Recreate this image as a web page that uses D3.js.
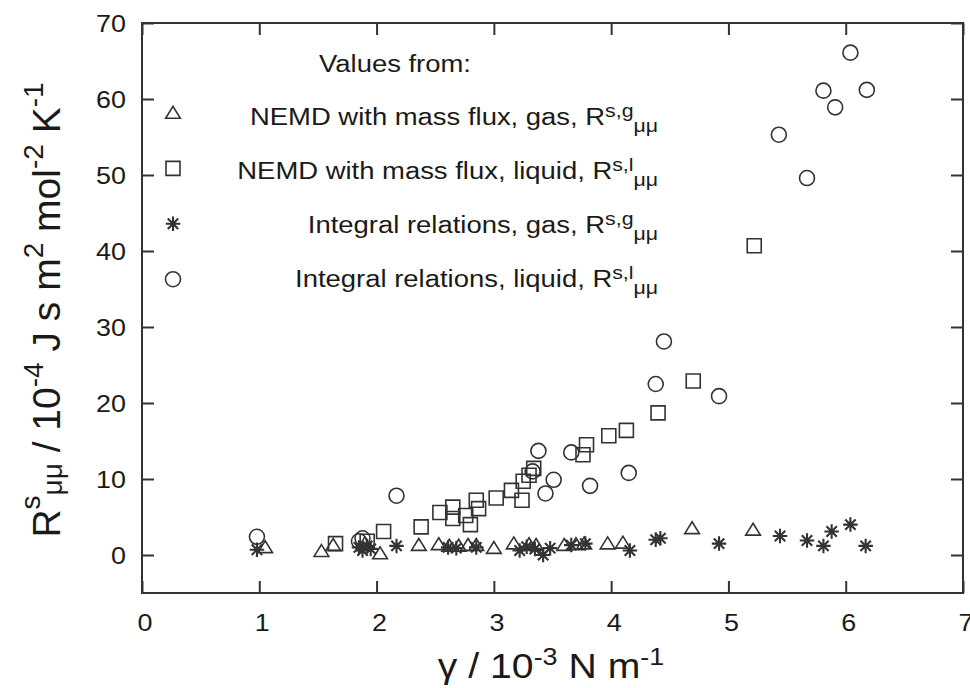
<!DOCTYPE html>
<html>
<head>
<meta charset="utf-8">
<script src="https://cdn.jsdelivr.net/npm/d3@7"></script>
<style>
  body { margin: 0; background: #fff; }
  svg { display: block; font-family: "Liberation Sans", Arial, sans-serif; }
  text { fill: #1a1a1a; }
</style>
</head>
<body>
<svg id="chart" width="970" height="688"></svg>
<script>
// gamma (10^-3 N/m) and R (10^-4 J s m2 mol-2 K-1)
var nemdGas = [
    [1.05, 1.0], [1.53, 0.5], [1.63, 1.3], [1.90, 1.5], [2.03, 0.2], [2.36, 1.3],
    [2.53, 1.4], [2.62, 1.2], [2.70, 1.2], [2.78, 1.3], [2.85, 1.3], [3.00, 0.9],
    [3.17, 1.5], [3.30, 1.4], [3.36, 1.3], [3.60, 1.3], [3.70, 1.4], [3.77, 1.5],
    [3.97, 1.5], [4.10, 1.6], [4.69, 3.5], [5.21, 3.3]
];
var nemdLiquid = [
    [1.65, 1.5], [1.92, 1.8], [2.06, 3.1], [2.38, 3.7], [2.54, 5.6], [2.65, 6.3],
    [2.65, 4.8], [2.76, 5.2], [2.80, 4.0], [2.85, 7.2], [2.87, 6.1], [3.02, 7.5],
    [3.15, 8.5], [3.24, 7.2], [3.25, 9.7], [3.30, 10.5], [3.34, 11.4], [3.76, 13.2],
    [3.79, 14.5], [3.98, 15.7], [4.13, 16.4], [4.40, 18.7], [4.70, 22.9], [5.22, 40.7]
];
var integralGas = [
    [0.98, 0.7], [1.85, 1.0], [1.88, 0.6], [1.92, 1.2], [1.95, 0.8], [2.17, 1.2],
    [2.61, 1.0], [2.68, 0.9], [2.85, 1.0], [3.22, 0.6], [3.28, 1.1], [3.35, 0.8],
    [3.42, 0.0], [3.48, 0.9], [3.66, 1.3], [3.78, 1.5], [4.16, 0.6], [4.38, 2.0],
    [4.42, 2.2], [4.92, 1.5], [5.44, 2.5], [5.67, 1.9], [5.81, 1.2], [5.88, 3.1],
    [6.04, 4.0], [6.17, 1.2]
];
var integralLiquid = [
    [0.98, 2.4], [1.85, 1.8], [1.88, 2.2], [2.17, 7.8], [3.33, 11.0], [3.38, 13.7],
    [3.44, 8.1], [3.51, 9.9], [3.66, 13.5], [3.82, 9.1], [4.15, 10.8], [4.38, 22.5],
    [4.45, 28.1], [4.92, 20.9], [5.43, 55.3], [5.67, 49.6], [5.81, 61.1], [5.91, 58.9],
    [6.04, 66.1], [6.18, 61.2]
];

var xTicks = [0, 1, 2, 3, 4, 5, 6, 7];
var yTicks = [0, 10, 20, 30, 40, 50, 60, 70];

// legend entries: [main text, superscript, subscript]
var legendTitle = "Values from:";
var legendLabels = [
    ["NEMD with mass flux, gas, R", "s,g", "\u03bc\u03bc"],
    ["NEMD with mass flux, liquid, R", "s,l", "\u03bc\u03bc"],
    ["Integral relations, gas, R", "s,g", "\u03bc\u03bc"],
    ["Integral relations, liquid, R", "s,l", "\u03bc\u03bc"]
];

var SX = 1.12;  // the figure's text is a bit wider than Arial
var ink = "#333";

var svg = d3.select("#chart");
var x = d3.scaleLinear().domain([0, 7]).range([142, 963]);
var y = d3.scaleLinear().domain([-5, 70]).range([593, 23]);

// custom open markers
var triangle = { draw: function(c, s) { var r = Math.sqrt(s) / 2;
    c.moveTo(0, -r * 0.95); c.lineTo(r * 1.05, r * 0.75); c.lineTo(-r * 1.05, r * 0.75); c.closePath(); } };
var square = { draw: function(c, s) { var r = Math.sqrt(s) / 2; c.rect(-r, -r, 2 * r, 2 * r); } };
var circle = { draw: function(c, s) { var r = Math.sqrt(s) / 2; c.moveTo(r, 0); c.arc(0, 0, r, 0, 2 * Math.PI); } };
var star = { draw: function(c, s) { var r = Math.sqrt(s) / 2, d = r * 0.72;
    c.moveTo(-r, 0); c.lineTo(r, 0); c.moveTo(0, -r); c.lineTo(0, r);
    c.moveTo(-d, -d); c.lineTo(d, d); c.moveTo(-d, d); c.lineTo(d, -d); } };

var series = [
    { data: nemdGas, type: triangle, size: 196, sw: 1.6 },
    { data: nemdLiquid, type: square, size: 196, sw: 1.6 },
    { data: integralGas, type: star, size: 210, sw: 2.1 },
    { data: integralLiquid, type: circle, size: 225, sw: 1.6 }
];

// write text, stretched horizontally a little, with optional sup/sub parts
function stext(parent, px, py, anchor, size, parts, rotate) {
    var g = parent.append("g")
        .attr("transform", "translate(" + px + "," + py + ")" + (rotate ? " rotate(-90)" : " scale(" + SX + ",1)"));
    var t = g.append("text").attr("text-anchor", anchor).style("font-size", size + "px");
    var shift = 0;
    parts.forEach(function(p) {
        var target = p.dy || 0;
        t.append("tspan")
            .attr("dy", target - shift)
            .style("font-size", (p.size || size) + "px")
            .text(p.t);
        shift = target;
    });
    return t;
}

// frame
svg.append("rect")
    .attr("x", x(0)).attr("y", y(70))
    .attr("width", x(7) - x(0)).attr("height", y(-5) - y(70))
    .attr("fill", "none").attr("stroke", ink).attr("stroke-width", 2);

// inward ticks on all four sides
function ticks(axis) { return axis.tickSizeInner(-12).tickSizeOuter(0).tickFormat(""); }
var axes = [
    [d3.axisBottom(x).tickValues(xTicks), "translate(0," + y(-5) + ")"],
    [d3.axisTop(x).tickValues(xTicks), "translate(0," + y(70) + ")"],
    [d3.axisLeft(y).tickValues(yTicks), "translate(" + x(0) + ",0)"],
    [d3.axisRight(y).tickValues(yTicks), "translate(" + x(7) + ",0)"]
];
axes.forEach(function(a) {
    var g = svg.append("g").attr("transform", a[1]).call(ticks(a[0]));
    g.select(".domain").remove();
    g.selectAll("line").attr("stroke", ink).attr("stroke-width", 2);
});

// tick labels
xTicks.forEach(function(v) {
    stext(svg, x(v) + 3, 631, "middle", 24, [{ t: String(v) }]);
});
yTicks.forEach(function(v) {
    stext(svg, 126, y(v) + 8.5, "end", 24, [{ t: String(v) }]);
});

// axis titles
stext(svg, 551, 678, "middle", 35, [
    { t: "\u03b3 / 10" }, { t: "-3", size: 24, dy: -13 }, { t: " N m" }, { t: "-1", size: 24, dy: -13 }
]);
stext(svg, 60, 310, "middle", 39, [
    { t: "R" }, { t: "s", size: 28, dy: -20 }, { t: "\u03bc\u03bc", size: 28, dy: 2 },
    { t: " / 10" }, { t: "-4", size: 28, dy: -17 }, { t: " J s m" }, { t: "2", size: 28, dy: -17 },
    { t: " mol" }, { t: "-2", size: 28, dy: -17 }, { t: " K" }, { t: "-1", size: 28, dy: -17 }
], true);

// data points
series.forEach(function(s) {
    svg.append("g").selectAll("path")
        .data(s.data)
        .enter().append("path")
        .attr("transform", function(d) { return "translate(" + x(d[0]) + "," + y(d[1]) + ")"; })
        .attr("d", d3.symbol().type(s.type).size(s.size))
        .attr("fill", "none")
        .attr("stroke", ink)
        .attr("stroke-width", s.sw);
});

// legend
var legend = svg.append("g");
stext(legend, 395, 72, "middle", 24.5, [{ t: legendTitle }]);
legendLabels.forEach(function(l, i) {
    var base = 124.5 + i * 54.3;
    stext(legend, 658, base, "end", 24.5, [
        { t: l[0] }, { t: l[1], size: 19, dy: -8 }, { t: l[2], size: 19, dy: 7 }
    ]);
    legend.append("path")
        .attr("transform", "translate(173," + (113 + i * 55.4) + ")")
        .attr("d", d3.symbol().type(series[i].type).size(series[i].size))
        .attr("fill", "none")
        .attr("stroke", ink)
        .attr("stroke-width", series[i].sw);
});
</script>
</body>
</html>
